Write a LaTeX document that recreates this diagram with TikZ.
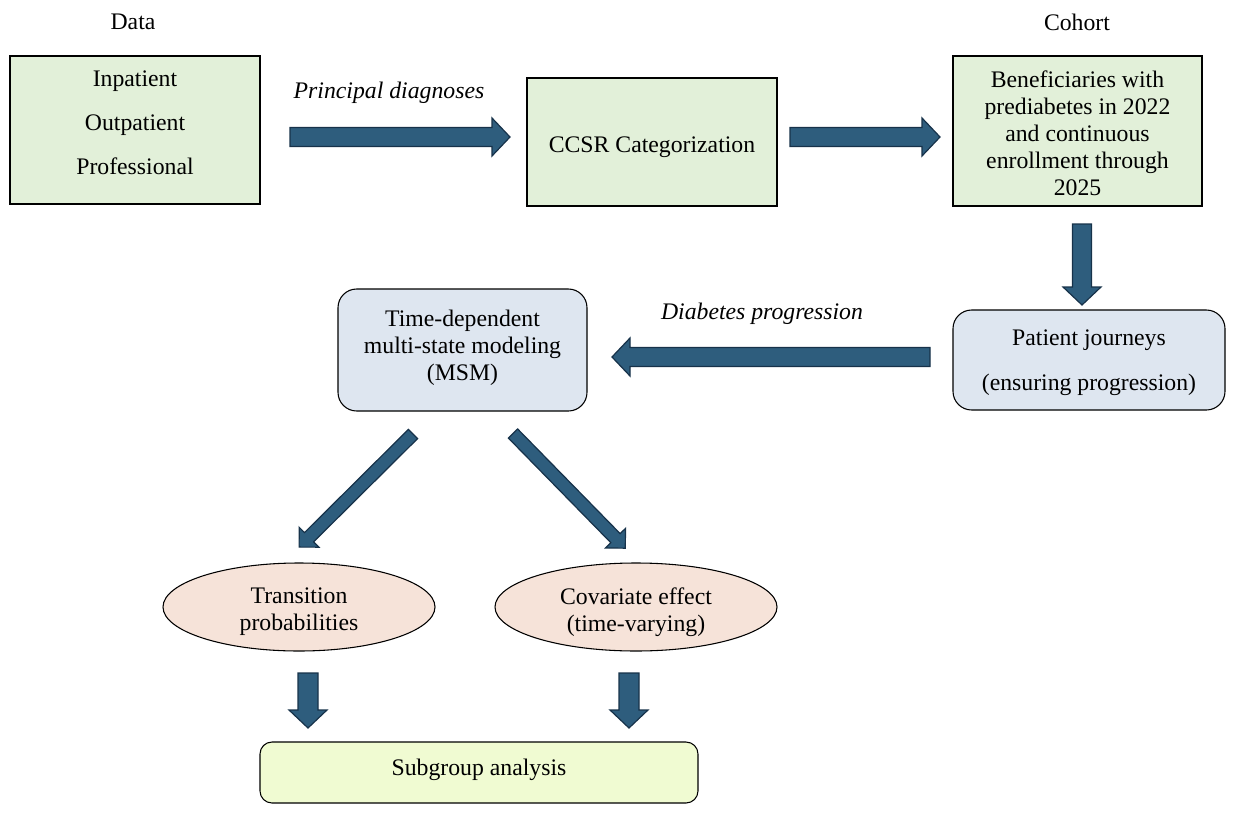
\documentclass[tikz,border=0pt]{standalone}
\usepackage{fontspec}
\setmainfont{Liberation Serif}
\usetikzlibrary{shapes.geometric}
\definecolor{boxgreen}{HTML}{E2F0D9}
\definecolor{boxblue}{HTML}{DEE6F0}
\definecolor{boxpeach}{HTML}{F6E3D9}
\definecolor{boxyellow}{HTML}{F0FBD2}
\definecolor{arrfill}{HTML}{2E5D7D}
\definecolor{arrline}{HTML}{17324A}
% #1 start, #2 angle, #3 length, #4 shaft half width, #5 head half width, #6 head length
\newcommand\blockarrow[6]{%
  \begin{scope}[shift={(#1)}, rotate=#2]
    \draw[barrow] (0,-#4) -- (#3-#6,-#4) -- (#3-#6,-#5) -- (#3,0) -- (#3-#6,#5) -- (#3-#6,#4) -- (0,#4) -- cycle;
  \end{scope}}
\begin{document}
\begin{tikzpicture}[x=0.75pt,y=-0.75pt,
  txt/.style={font=\fontsize{17.8}{20.25}\selectfont, inner sep=0pt, align=center},
  box/.style={draw=black, line width=0.8pt, inner sep=0pt},
  greenbox/.style={box, fill=boxgreen},
  bluebox/.style={box, fill=boxblue, rounded corners=14pt},
  peach/.style={box, ellipse, fill=boxpeach},
  yellowbox/.style={box, fill=boxyellow, rounded corners=9pt},
  barrow/.style={fill=arrfill, draw=arrline, line width=0.9pt, line join=miter}]
\useasboundingbox (0,0) rectangle (1240,818);

% headers
\node[txt] (hdata) at (133,22) {Data};
\node[txt] (hcohort) at (1077,22) {Cohort};

% top row
\node[greenbox, minimum width=187.5pt, minimum height=111pt] (data) at (135,130) {};
\node[txt, font=\fontsize{17.8}{33}\selectfont] (datatxt) at (135,123) {Inpatient\\Outpatient\\Professional};

\node[greenbox, minimum width=187.5pt, minimum height=96pt] (ccsr) at (652,142) {};
\node[txt] (ccsrtxt) at (652,147) {CCSR Categorization};

\node[greenbox, minimum width=186.75pt, minimum height=112.5pt] (cohort) at (1077.5,131) {};
\node[txt] (cohorttxt) at (1077.5,133)
  {Beneficiaries with\\prediabetes in 2022\\and continuous\\enrollment through\\2025};

\node[txt, font=\fontsize{17.8}{20.25}\itshape] (pd) at (389,93) {Principal diagnoses};

% second row
\node[bluebox, minimum width=204pt, minimum height=75pt] (journey) at (1089,360) {};
\node[txt, font=\fontsize{17.8}{33.75}\selectfont] (journeytxt) at (1089,363)
  {Patient journeys\\(ensuring progression)};

\node[bluebox, minimum width=186.75pt, minimum height=91.5pt] (msm) at (462.5,350) {};
\node[txt] (msmtxt) at (462.5,347.5) {Time-dependent\\multi-state modeling\\(MSM)};

\node[txt, font=\fontsize{17.8}{20.25}\itshape] (dp) at (762,314) {Diabetes progression};

% ellipses
\node[peach, minimum width=204pt, minimum height=66pt] (trans) at (299,607) {};
\node[txt] (transtxt) at (299,612) {Transition\\probabilities};
\node[peach, minimum width=211.5pt, minimum height=66pt] (cov) at (636,607) {};
\node[txt] (covtxt) at (636,612) {Covariate effect\\(time-varying)};

% subgroup
\node[yellowbox, minimum width=328.5pt, minimum height=45.75pt] (sub) at (479,772.5) {};
\node[txt] (subtxt) at (479,769.5) {Subgroup analysis};

% block arrows
\blockarrow{290,137}{0}{220}{9.5}{19}{18}
\blockarrow{790,137}{0}{150}{9.5}{19}{18}
\blockarrow{1082,224}{-90}{81}{9.5}{19}{18}
\blockarrow{930,357}{180}{318}{9.5}{19}{18}
\blockarrow{413,434}{-135.2}{160.5}{6.5}{14}{14}
\blockarrow{513,433.5}{-45.6}{160.5}{6.5}{14}{14}
\blockarrow{308,673}{-90}{55}{10}{19}{18}
\blockarrow{629,673}{-90}{55}{10}{19}{18}
\end{tikzpicture}
\end{document}
